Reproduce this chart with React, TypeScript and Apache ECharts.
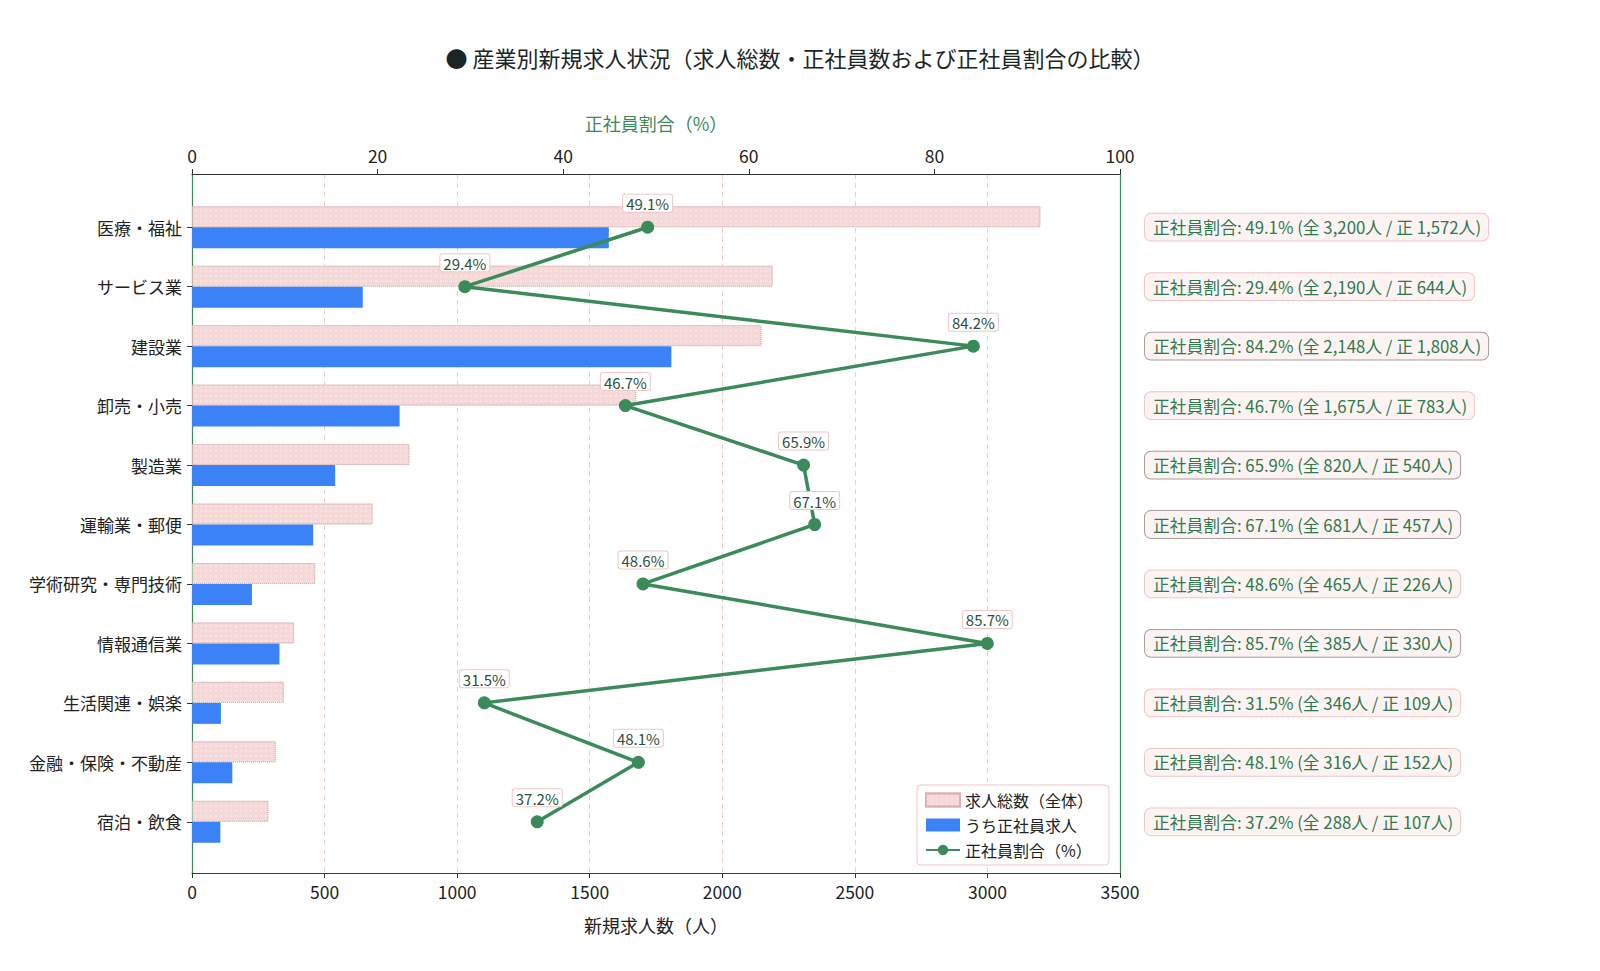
import React, { useEffect, useRef } from "react";
import * as echarts from "echarts";

const categories = [
  "医療・福祉",
  "サービス業",
  "建設業",
  "卸売・小売",
  "製造業",
  "運輸業・郵便",
  "学術研究・専門技術",
  "情報通信業",
  "生活関連・娯楽",
  "金融・保険・不動産",
  "宿泊・飲食",
];
const totals = [3200, 2190, 2148, 1675, 820, 681, 465, 385, 346, 316, 288];
const regulars = [1572, 644, 1808, 783, 540, 457, 226, 330, 109, 152, 107];
const ratios = [49.1, 29.4, 84.2, 46.7, 65.9, 67.1, 48.6, 85.7, 31.5, 48.1, 37.2];

const countTicks = { min: 0, max: 3500, interval: 500 };
const ratioTicks = { min: 0, max: 100, interval: 20 };

const FONT = "'Noto Sans CJK JP', 'Noto Sans', sans-serif";
const GREEN = "#3b8a5a";
const PINK = "#f5d9d9";
const BLUE = "#3b82f6";

const fmt = (n: number) => n.toLocaleString("en-US");

export default function App() {
  const ref = useRef<HTMLDivElement>(null);
  useEffect(() => {
    if (!ref.current) return;
    const chart = echarts.init(ref.current, null, { renderer: "svg" });
    const gridLeft = 192;
    const gridRight = 1600 - 1120;
    const option = {
      animation: false,
      backgroundColor: "#fff",
      textStyle: { fontFamily: FONT },
      title: {
        text: "● 産業別新規求人状況（求人総数・正社員数および正社員割合の比較）",
        left: "center",
        top: 41,
        textStyle: { fontSize: 22, fontWeight: "normal", color: "#1a2626", fontFamily: FONT },
      },
      legend: {
        orient: "vertical",
        left: 917,
        top: 785,
        padding: [7, 16, 7, 8],
        itemGap: 9,
        itemWidth: 34,
        itemHeight: 13,
        backgroundColor: "#fff",
        borderColor: "#efc9c9",
        borderWidth: 1,
        borderRadius: 4,
        textStyle: { fontSize: 16, color: "#222", fontFamily: FONT },
        data: [
          { name: "求人総数（全体）", icon: "rect" },
          { name: "うち正社員求人", icon: "rect" },
          { name: "正社員割合（%）" },
        ],
      },
      grid: [
        { left: gridLeft, right: gridRight, top: 174, bottom: 971 - 873, containLabel: false },
        { left: gridLeft, right: gridRight, top: 197.5, bottom: 971 - 851.5, containLabel: false },
      ],
      xAxis: [
        {
          type: "value",
          gridIndex: 0,
          position: "bottom",
          ...countTicks,
          name: "新規求人数（人）",
          nameLocation: "middle",
          nameGap: 43,
          nameTextStyle: { fontSize: 18, color: "#222", fontFamily: FONT },
          axisLine: { show: true, onZero: false, lineStyle: { color: "#33413a", width: 1.2 } },
          axisTick: { show: true, length: 5, lineStyle: { color: "#333" } },
          axisLabel: {
            fontSize: 17.5,
            color: "#222",
            margin: 10,
            fontFamily: FONT,
            formatter: (v: number) => String(v),
          },
          splitLine: { show: true, lineStyle: { color: "#f2cccc", type: [5, 4], width: 1 } },
        },
        {
          type: "value",
          gridIndex: 0,
          position: "top",
          ...ratioTicks,
          name: "正社員割合（%）",
          nameLocation: "middle",
          nameGap: 42,
          nameTextStyle: { fontSize: 18, color: GREEN, fontFamily: FONT },
          axisLine: { show: true, onZero: false, lineStyle: { color: "#333", width: 1.2 } },
          axisTick: { show: true, length: 5, lineStyle: { color: "#333" } },
          axisLabel: {
            fontSize: 17.5,
            color: "#222",
            margin: 10,
            fontFamily: FONT,
            formatter: (v: number) => String(v),
          },
          splitLine: { show: false },
        },
        { type: "value", gridIndex: 1, position: "bottom", ...countTicks, show: false },
        { type: "value", gridIndex: 1, position: "top", ...ratioTicks, show: false },
      ],
      yAxis: [
        {
          type: "value",
          gridIndex: 0,
          position: "left",
          min: 0,
          max: 1,
          axisLine: { show: true, onZero: false, lineStyle: { color: GREEN, width: 1.2 } },
          axisTick: { show: false },
          axisLabel: { show: false },
          splitLine: { show: false },
        },
        {
          type: "value",
          gridIndex: 0,
          position: "right",
          min: 0,
          max: 1,
          axisLine: { show: true, onZero: false, lineStyle: { color: GREEN, width: 1.2 } },
          axisTick: { show: false },
          axisLabel: { show: false },
          splitLine: { show: false },
        },
        {
          type: "category",
          gridIndex: 1,
          position: "left",
          inverse: true,
          data: categories,
          axisLine: { show: false },
          axisTick: { show: true, alignWithLabel: true, length: 5, lineStyle: { color: "#333" } },
          axisLabel: { interval: 0, fontSize: 17, color: "#222", margin: 10, fontFamily: FONT },
          splitLine: { show: false },
        },
        {
          type: "category",
          gridIndex: 1,
          position: "right",
          inverse: true,
          data: categories,
          axisLine: { show: false },
          axisTick: { show: false },
          splitLine: { show: false },
          axisLabel: {
            interval: 0,
            margin: 25,
            formatter: (_v: string, i: number) => {
              const key = ratios[i] >= 60 ? "h" : "n";
              return `{${key}|正社員割合: ${ratios[i].toFixed(1)}% (全 ${fmt(totals[i])}人 / 正 ${fmt(
                regulars[i]
              )}人)}`;
            },
            rich: {
              n: {
                fontSize: 16.8,
                fontFamily: FONT,
                color: "#2e7a4c",
                backgroundColor: "#fdf3f3",
                borderColor: "#f0c6c6",
                borderWidth: 1,
                borderRadius: 6,
                lineHeight: 20,
                padding: [5, 7, 5, 8],
              },
              h: {
                fontSize: 16.8,
                fontFamily: FONT,
                color: "#2e7a4c",
                backgroundColor: "#fdf3f3",
                borderColor: "#a99c9c",
                borderWidth: 1,
                borderRadius: 6,
                lineHeight: 20,
                padding: [5, 7, 5, 8],
              },
            },
          },
        },
      ],
      series: [
        {
          name: "求人総数（全体）",
          type: "bar",
          xAxisIndex: 2,
          yAxisIndex: 2,
          data: totals,
          barWidth: 21,
          barGap: "0%",
          itemStyle: {
            color: PINK,
            borderColor: "#d9b3b3",
            borderWidth: 1,
            borderType: "dotted",
            decal: {
              symbol: "circle",
              symbolSize: 0.6,
              color: "rgba(255,255,255,0.85)",
              dashArrayX: [[2, 3]],
              dashArrayY: [2, 3],
              rotation: 0,
            },
          },
          z: 2,
        },
        {
          name: "うち正社員求人",
          type: "bar",
          xAxisIndex: 2,
          yAxisIndex: 2,
          data: regulars,
          barWidth: 21,
          barGap: "0%",
          itemStyle: { color: BLUE },
          z: 2,
        },
        {
          name: "正社員割合（%）",
          type: "line",
          xAxisIndex: 3,
          yAxisIndex: 2,
          data: ratios,
          symbol: "circle",
          symbolSize: 13,
          lineStyle: { color: GREEN, width: 3.5 },
          itemStyle: { color: GREEN },
          z: 5,
          label: {
            show: true,
            position: "top",
            distance: 9,
            formatter: (p: any) => `${Number(p.value).toFixed(1)}%`,
            fontSize: 15,
            lineHeight: 16,
            fontFamily: FONT,
            color: "#2d4f3e",
            backgroundColor: "#fff",
            borderColor: "#f0c6c6",
            borderWidth: 1,
            borderRadius: 2,
            padding: [1, 3, 0, 3],
          },
        },
      ],
    };
    chart.setOption(option as any);
    return () => chart.dispose();
  }, []);
  return (
    <div
      ref={ref}
      style={{ position: "absolute", left: 0, top: 0, width: 1600, height: 971 }}
    />
  );
}
